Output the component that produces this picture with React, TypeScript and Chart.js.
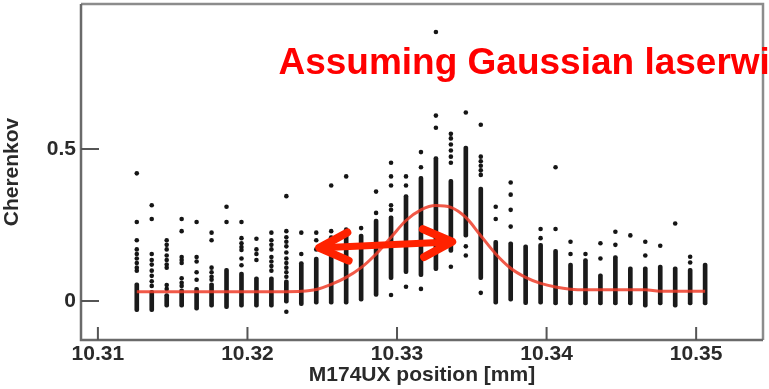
import { useEffect, useRef } from 'react';
import { Chart, registerables } from 'chart.js';

Chart.register(...registerables);

// Scan positions (mm) of each column of measurements
const columnX = [
  10.3126, 10.3136, 10.3146, 10.3156, 10.3166, 10.3176, 10.3186, 10.3196, 10.3206, 10.3216,
  10.3226, 10.3236, 10.3246, 10.3256, 10.3266, 10.3276, 10.3286, 10.3296, 10.3306, 10.3316,
  10.3326, 10.3336, 10.3346, 10.3356, 10.3366, 10.3376, 10.3386, 10.3396, 10.3406, 10.3416,
  10.3426, 10.3436, 10.3446, 10.3456, 10.3466, 10.3476, 10.3486, 10.3496, 10.3506,
];

// Dense core of each column (continuous run of points): low / high Cherenkov value
const denseLow = [
  -0.035, -0.035, -0.02, -0.02, -0.03, -0.02, -0.025, -0.02, -0.02, -0.02,
  -0.007, -0.015, -0.01, -0.01, -0.01, 0.0, 0.015, 0.07, 0.09, 0.08,
  0.1, 0.16, 0.21, 0.07, -0.01, 0.0, -0.012, -0.01, -0.013, -0.013,
  -0.013, -0.013, -0.013, -0.013, -0.02, -0.013, -0.02, -0.013, -0.013,
];
const denseHigh = [
  0.06, 0.035, 0.025, 0.04, 0.045, 0.06, 0.108, 0.095, 0.08, 0.08,
  0.07, 0.13, 0.145, 0.215, 0.22, 0.22, 0.27, 0.28, 0.35, 0.41,
  0.475, 0.4, 0.51, 0.375, 0.2, 0.195, 0.185, 0.19, 0.17, 0.125,
  0.14, 0.09, 0.15, 0.113, 0.113, 0.118, 0.113, 0.108, 0.125,
];

// Individual points outside the dense core, per column
const sparsePoints: number[][] = [
  [0.42, 0.26, 0.2, 0.17, 0.155, 0.14, 0.125, 0.11, 0.1],
  [0.315, 0.27, 0.155, 0.135, 0.12, 0.1, 0.083, 0.065, 0.05],
  [0.2, 0.185, 0.17, 0.15, 0.135, 0.12, 0.11, 0.053, 0.04],
  [0.27, 0.23, 0.145, 0.135, 0.125, 0.075, 0.06, 0.05],
  [0.26, 0.145, 0.13, 0.095, 0.07],
  [0.225, 0.2, 0.11, 0.095, 0.08, 0.07],
  [0.31, 0.26],
  [0.26, 0.207, 0.19, 0.178, 0.168, 0.14, 0.118],
  [0.205, 0.17, 0.155, 0.135],
  [0.225, 0.2, 0.185, 0.17, 0.145, 0.13, 0.115, 0.1],
  [0.345, 0.23, 0.21, 0.195, 0.18, 0.16, 0.14, 0.125, 0.11, 0.095, 0.08, -0.035],
  [0.225, 0.155],
  [0.225, 0.2, 0.17],
  [0.38, 0.23],
  [0.41, 0.235],
  [0.24],
  [0.36, 0.29],
  [0.455, 0.41, 0.38, 0.315, 0.3, 0.02],
  [0.41, 0.38, 0.047],
  [0.49, 0.44, 0.04],
  [0.885, 0.61, 0.57],
  [0.55, 0.535, 0.515, 0.495, 0.475, 0.455, 0.113],
  [0.62, 0.18, 0.15],
  [0.58, 0.475, 0.46, 0.445, 0.43, 0.415, 0.027],
  [0.31, 0.27],
  [0.39, 0.35, 0.3, 0.245],
  [],
  [0.237, 0.207],
  [0.44, 0.237],
  [0.195, 0.155],
  [0.155],
  [0.19, 0.14],
  [0.228, 0.185],
  [0.216],
  [0.195, 0.15],
  [0.182],
  [0.255],
  [0.146, 0.127],
  [],
];

// Gaussian fit curve, read at each column position
const fitCurve = [
  0.031, 0.031, 0.031, 0.031, 0.031, 0.031, 0.031, 0.031, 0.031, 0.031,
  0.031, 0.032, 0.038, 0.055, 0.078, 0.11, 0.155, 0.21, 0.265, 0.3,
  0.314, 0.308, 0.275, 0.215, 0.155, 0.108, 0.078, 0.058, 0.046, 0.039,
  0.037, 0.037, 0.037, 0.037, 0.037, 0.032, 0.032, 0.032, 0.032,
];

const xTicks = [10.31, 10.32, 10.33, 10.34, 10.35];
const yTicks = [0, 0.5];
const xRange = [10.30887, 10.35447];
const yRange = [-0.128, 0.977];

const arrowLeft = { x: 10.3248, y: 0.175 };
const arrowRight = { x: 10.33369, y: 0.195 };
const noteAnchor = { x: 10.32207, y: 0.747 };
const noteText = 'Assuming Gaussian laserwi';
const xTitle = 'M174UX position [mm]';
const yTitle = 'Cherenkov';

const FONT = "'Liberation Sans', Arial, Helvetica, sans-serif";

const decorPlugin = {
  id: 'decor',
  afterDatasetsDraw(chart: any) {
    const { ctx, chartArea, scales } = chart;
    const xs = scales.x;
    const ys = scales.y;
    // frame
    ctx.save();
    ctx.lineWidth = 2.5;
    ctx.strokeStyle = '#8c8c8c';
    ctx.beginPath();
    ctx.moveTo(chartArea.left, chartArea.top);
    ctx.lineTo(chartArea.right, chartArea.top);
    ctx.lineTo(chartArea.right, chartArea.bottom);
    ctx.stroke();
    ctx.strokeStyle = '#6a6a6a';
    ctx.beginPath();
    ctx.moveTo(chartArea.left, chartArea.top);
    ctx.lineTo(chartArea.left, chartArea.bottom);
    ctx.lineTo(chartArea.right, chartArea.bottom);
    ctx.stroke();
    // inward ticks
    ctx.lineWidth = 2;
    ctx.strokeStyle = '#555';
    ctx.beginPath();
    yTicks.forEach((v) => {
      const py = ys.getPixelForValue(v);
      ctx.moveTo(chartArea.left, py);
      ctx.lineTo(chartArea.left + 18, py);
    });
    xTicks.forEach((v) => {
      const px = xs.getPixelForValue(v);
      ctx.moveTo(px, chartArea.bottom);
      ctx.lineTo(px, chartArea.bottom - 13);
    });
    ctx.stroke();

    // double arrow
    const x1 = xs.getPixelForValue(arrowLeft.x);
    const y1 = ys.getPixelForValue(arrowLeft.y);
    const x2 = xs.getPixelForValue(arrowRight.x);
    const y2 = ys.getPixelForValue(arrowRight.y);
    const ang = Math.atan2(y2 - y1, x2 - x1);
    const headLen = 32;
    const spread = (26 * Math.PI) / 180;
    ctx.strokeStyle = '#ff2200';
    ctx.lineCap = 'round';
    ctx.lineJoin = 'round';
    ctx.lineWidth = 7;
    ctx.beginPath();
    ctx.moveTo(x1 + 3 * Math.cos(ang), y1 + 3 * Math.sin(ang));
    ctx.lineTo(x2 - 3 * Math.cos(ang), y2 - 3 * Math.sin(ang));
    ctx.stroke();
    ctx.lineWidth = 8;
    ctx.beginPath();
    ctx.moveTo(x1 + headLen * Math.cos(ang - spread), y1 + headLen * Math.sin(ang - spread));
    ctx.lineTo(x1, y1);
    ctx.lineTo(x1 + headLen * Math.cos(ang + spread), y1 + headLen * Math.sin(ang + spread));
    ctx.moveTo(x2 - headLen * Math.cos(ang - spread), y2 - headLen * Math.sin(ang - spread));
    ctx.lineTo(x2, y2);
    ctx.lineTo(x2 - headLen * Math.cos(ang + spread), y2 - headLen * Math.sin(ang + spread));
    ctx.stroke();
    ctx.restore();
  },
  afterDraw(chart: any) {
    const { ctx, scales } = chart;
    ctx.save();
    ctx.font = `bold 37px ${FONT}`;
    ctx.fillStyle = '#ff0000';
    ctx.textBaseline = 'alphabetic';
    ctx.textAlign = 'left';
    ctx.fillText(noteText, scales.x.getPixelForValue(noteAnchor.x), scales.y.getPixelForValue(noteAnchor.y));
    ctx.restore();
  },
};

export default function App() {
  const canvasRef = useRef<HTMLCanvasElement | null>(null);

  useEffect(() => {
    const canvas = canvasRef.current;
    if (!canvas) return;
    const denseData = columnX.map((x, i) => ({ x, y: [denseLow[i], denseHigh[i]] }));
    const pointData: { x: number; y: number }[] = [];
    columnX.forEach((x, i) => sparsePoints[i].forEach((y) => pointData.push({ x, y })));
    const curveData = columnX.map((x, i) => ({ x, y: fitCurve[i] }));

    const tickFont = { family: FONT, weight: 'bold' as const, size: 21 };

    const chart = new Chart(canvas, {
      type: 'scatter',
      data: {
        datasets: [
          {
            type: 'line',
            label: 'Gaussian fit',
            data: curveData,
            borderColor: 'rgba(238, 60, 40, 0.85)',
            borderWidth: 3,
            pointRadius: 0,
            cubicInterpolationMode: 'monotone',
            fill: false,
            order: 0,
          } as any,
          {
            type: 'scatter',
            label: 'points',
            data: pointData,
            backgroundColor: '#151515',
            borderColor: '#151515',
            borderWidth: 0,
            pointRadius: 2.3,
            order: 1,
          } as any,
          {
            type: 'bar',
            label: 'dense',
            data: denseData,
            backgroundColor: '#1a1a1a',
            barThickness: 4,
            borderRadius: 2,
            borderSkipped: false,
            order: 2,
          } as any,
        ],
      },
      options: {
        responsive: false,
        animation: false,
        devicePixelRatio: 1,
        layout: { padding: { left: 0, top: 4, right: 6, bottom: 0 } },
        plugins: { legend: { display: false }, tooltip: { enabled: false } },
        scales: {
          x: {
            type: 'linear',
            min: xRange[0],
            max: xRange[1],
            offset: false,
            grid: { display: false, drawTicks: false },
            border: { display: false },
            afterBuildTicks: (s: any) => {
              s.ticks = xTicks.map((v) => ({ value: v }));
            },
            afterFit: (s: any) => {
              s.height = 49;
              s.paddingLeft = 0;
              s.paddingRight = 0;
            },
            ticks: {
              font: tickFont,
              color: '#2a2a2a',
              padding: 2,
              autoSkip: false,
              maxRotation: 0,
              callback: (v: any) => Number(v).toFixed(2),
            },
            title: {
              display: true,
              text: xTitle,
              font: tickFont,
              color: '#2a2a2a',
              padding: { top: 0, bottom: 1 },
            },
          },
          y: {
            type: 'linear',
            min: yRange[0],
            max: yRange[1],
            grid: { display: false, drawTicks: false },
            border: { display: false },
            afterBuildTicks: (s: any) => {
              s.ticks = yTicks.map((v) => ({ value: v }));
            },
            afterFit: (s: any) => {
              s.width = 81;
              s.paddingTop = 0;
              s.paddingBottom = 0;
            },
            ticks: {
              font: tickFont,
              color: '#2a2a2a',
              padding: 5,
              callback: (v: any) => String(v),
            },
            title: {
              display: true,
              text: yTitle,
              font: tickFont,
              color: '#2a2a2a',
              padding: { top: 0, bottom: 0 },
            },
          },
        },
      } as any,
      plugins: [decorPlugin],
    });
    return () => chart.destroy();
  }, []);

  return (
    <div style={{ position: 'absolute', left: 0, top: 0, width: 769, height: 389, background: '#fff' }}>
      <canvas ref={canvasRef} width={769} height={389} style={{ display: 'block', width: 769, height: 389 }} />
    </div>
  );
}
